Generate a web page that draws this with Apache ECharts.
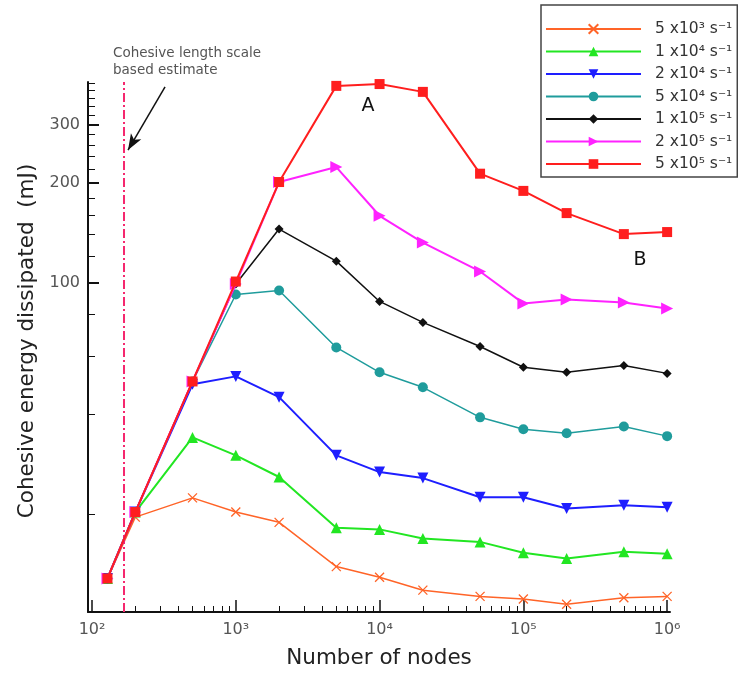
<!DOCTYPE html>
<html>
<head>
<meta charset="utf-8">
<title>Cohesive energy dissipated</title>
<script src="https://cdn.jsdelivr.net/npm/echarts@6/dist/echarts.min.js"></script>
<style>
    html, body { margin: 0; padding: 0; background: #fff; }
    #chart { width: 738px; height: 674px; }
</style>
</head>
<body>
<div id="chart"></div>
<script>
    var nodes = [128, 200, 500, 1000, 2000, 5000, 10000, 20000, 50000, 100000, 200000, 500000, 1000000];
    // energy (mJ) per strain rate
    var rate5e3 = [12.8, 19.6, 22.4, 20.3, 18.9, 13.9, 12.9, 11.8, 11.3, 11.1, 10.7, 11.2, 11.3];
    var rate1e4 = [12.8, 20.3, 34.1, 30.1, 25.9, 18.2, 18.0, 16.9, 16.5, 15.3, 14.7, 15.4, 15.2];
    var rate2e4 = [12.8, 20.3, 49.3, 52.1, 45.1, 30.1, 26.8, 25.7, 22.5, 22.5, 20.8, 21.3, 21.0];
    var rate5e4 = [12.8, 20.3, 50.3, 92.0, 94.6, 63.7, 53.6, 48.3, 39.2, 36.1, 35.1, 36.8, 34.4];
    var rate1e5 = [12.8, 20.3, 50.3, 99, 145, 116, 87.7, 75.8, 64.1, 55.5, 53.6, 56.2, 53.2];
    var rate2e5 = [12.8, 20.3, 50.3, 99, 201, 223, 159, 132, 108, 86.5, 88.9, 87, 83.5];
    var rate5e5 = [12.8, 20.3, 50.3, 100.7, 201, 392, 397, 376, 213, 189, 162, 140, 142];
    var rateNames = ['5 x10³ s⁻¹', '1 x10⁴ s⁻¹', '2 x10⁴ s⁻¹', '5 x10⁴ s⁻¹', '1 x10⁵ s⁻¹', '2 x10⁵ s⁻¹', '5 x10⁵ s⁻¹'];

    var xTickExp = [2, 3, 4, 5, 6];           // 10^2 .. 10^6
    var yTickLabels = [100, 200, 300];
    var yMinorTicks = [20, 40, 60, 80, 120, 140, 160, 180, 220, 240, 260, 280, 320, 340, 360, 380, 400];
    var cohesiveEstimate = 167;               // vertical dash-dot line

    var xMinLog = 1.972, xMaxLog = 6.02;
    var yMinLog = 1.006, yMaxLog = 2.605;
    var sup = {2: '²', 3: '³', 4: '⁴', 5: '⁵', 6: '⁶'};
    var fontFam = '"DejaVu Sans", Verdana, sans-serif';

window.onload = function () {
    echart();
};

//把节点数和能量组合成 [x, y]
function pairs(vals) {
    var out = [];
    for (var i = 0; i < nodes.length; i++) {
        out.push([nodes[i], vals[i]]);
    }
    return out;
}

function log10s(arr) {
    var out = [];
    for (var i = 0; i < arr.length; i++) out.push(Math.log10(arr[i]));
    return out;
}

function echart() {
    var myChart = echarts.init(document.getElementById('chart'), null, {renderer: 'canvas'});

    // minor ticks of x axis: k*10^n
    var xMinor = [];
    for (var n = 2; n < 6; n++) {
        for (var k = 2; k <= 9; k++) xMinor.push(Math.log10(k * Math.pow(10, n)));
    }

    var styles = [
        {data: rate5e3, color: '#ff6428', symbol: 'path://M0,0L10,10M10,0L0,10', size: 9, width: 1.5, rotate: 0},
        {data: rate1e4, color: '#22e622', symbol: 'triangle', size: 11, width: 2, rotate: 0},
        {data: rate2e4, color: '#1e1eff', symbol: 'triangle', size: 11, width: 2, rotate: 180},
        {data: rate5e4, color: '#1f9c9c', symbol: 'circle', size: 10, width: 1.5, rotate: 0},
        {data: rate1e5, color: '#111111', symbol: 'diamond', size: 9, width: 1.5, rotate: 0},
        {data: rate2e5, color: '#ff22ff', symbol: 'triangle', size: 12, width: 2, rotate: -90},
        {data: rate5e5, color: '#ff1e1e', symbol: 'rect', size: 10, width: 2, rotate: 0}
    ];

    var series = [];
    for (var i = 0; i < styles.length; i++) {
        var s = styles[i];
        series.push({
            name: rateNames[i],
            type: 'line',
            xAxisIndex: 0,
            yAxisIndex: 0,
            data: pairs(s.data),
            symbol: s.symbol,
            symbolSize: s.size,
            symbolRotate: s.rotate,
            showAllSymbol: true,
            lineStyle: {color: s.color, width: s.width},
            itemStyle: {color: s.color, borderColor: s.color, borderWidth: i === 0 ? 1.3 : 0},
            z: 3 + i
        });
    }

    // annotations hung on the first series
    series[0].markLine = {
        silent: true,
        symbol: 'none',
        label: {show: false},
        data: [
            {xAxis: cohesiveEstimate, lineStyle: {color: '#f5286e', width: 2, type: [9, 3, 2, 3]}},
            [
                {coord: [322, 389], symbol: 'none', lineStyle: {color: '#111', width: 1.5, type: 'solid'}},
                {coord: [178, 251], symbol: 'arrow', symbolSize: [9, 16]}
            ]
        ]
    };
    series[0].markPoint = {
        silent: true,
        symbol: 'circle',
        symbolSize: 0,
        label: {show: true, color: '#111', fontSize: 19, fontFamily: fontFam, formatter: '{b}'},
        data: [
            {name: 'A', coord: [8300, 340]},
            {name: 'B', coord: [647000, 117]}
        ]
    };

    var option = {
        animation: false,
        backgroundColor: '#fff',
        grid: {left: 88, top: 82, width: 582, height: 531},
        legend: {
            orient: 'vertical',
            left: 541,
            top: 5,
            padding: [14, 5, 3, 4],
            itemWidth: 95,
            itemHeight: 12,
            itemGap: 2.5,
            borderColor: '#444',
            borderWidth: 1.5,
            backgroundColor: '#fff',
            textStyle: {fontSize: 15.5, color: '#333', fontFamily: fontFam, lineHeight: 20, padding: [0, 0, 0, 9]},
            data: rateNames
        },
        xAxis: [
            {   // data axis (log scale), hidden
                type: 'log', logBase: 10, show: false,
                min: Math.pow(10, xMinLog), max: Math.pow(10, xMaxLog)
            },
            {   // decades, ticks and labels
                type: 'value', position: 'bottom', min: xMinLog, max: xMaxLog,
                name: 'Number of nodes', nameLocation: 'middle', nameGap: 35,
                nameTextStyle: {fontSize: 21.5, color: '#222', fontFamily: fontFam},
                axisLine: {show: true, lineStyle: {color: '#111', width: 2}},
                axisTick: {show: true, inside: true, length: 12, lineStyle: {color: '#111', width: 1.5}, customValues: xTickExp},
                axisLabel: {
                    customValues: xTickExp, margin: 10, fontSize: 16, color: '#555', fontFamily: fontFam,
                    formatter: function (v) { return '10' + sup[Math.round(v)]; }
                },
                splitLine: {show: false}
            },
            {   // minor ticks
                type: 'value', position: 'bottom', min: xMinLog, max: xMaxLog,
                axisLine: {show: false},
                axisTick: {show: true, inside: true, length: 6, lineStyle: {color: '#111', width: 1}, customValues: xMinor},
                axisLabel: {show: false},
                splitLine: {show: false}
            }
        ],
        yAxis: [
            {
                type: 'log', logBase: 10, show: false,
                min: Math.pow(10, yMinLog), max: Math.pow(10, yMaxLog)
            },
            {
                type: 'value', position: 'left', min: yMinLog, max: yMaxLog,
                name: 'Cohesive energy dissipated  (mJ)', nameLocation: 'middle', nameGap: 50,
                nameTextStyle: {fontSize: 21.5, color: '#222', fontFamily: fontFam, padding: [0, 0, 0, 12]},
                axisLine: {show: true, lineStyle: {color: '#111', width: 2}},
                axisTick: {show: true, inside: true, length: 11, lineStyle: {color: '#111', width: 2}, customValues: log10s(yTickLabels)},
                axisLabel: {
                    customValues: log10s(yTickLabels), margin: 8, fontSize: 16, color: '#555', fontFamily: fontFam,
                    formatter: function (v) { return Math.round(Math.pow(10, v)); }
                },
                splitLine: {show: false}
            },
            {
                type: 'value', position: 'left', min: yMinLog, max: yMaxLog,
                axisLine: {show: false},
                axisTick: {show: true, inside: true, length: 7, lineStyle: {color: '#111', width: 1}, customValues: log10s(yMinorTicks)},
                axisLabel: {show: false},
                splitLine: {show: false}
            }
        ],
        graphic: [
            {
                type: 'text', left: 113, top: 45,
                style: {
                    text: 'Cohesive length scale\nbased estimate',
                    fill: '#555', fontSize: 13.5, lineHeight: 17, fontFamily: fontFam
                }
            }
        ],
        series: series
    };

    myChart.setOption(option);
}
</script>
</body>
</html>
